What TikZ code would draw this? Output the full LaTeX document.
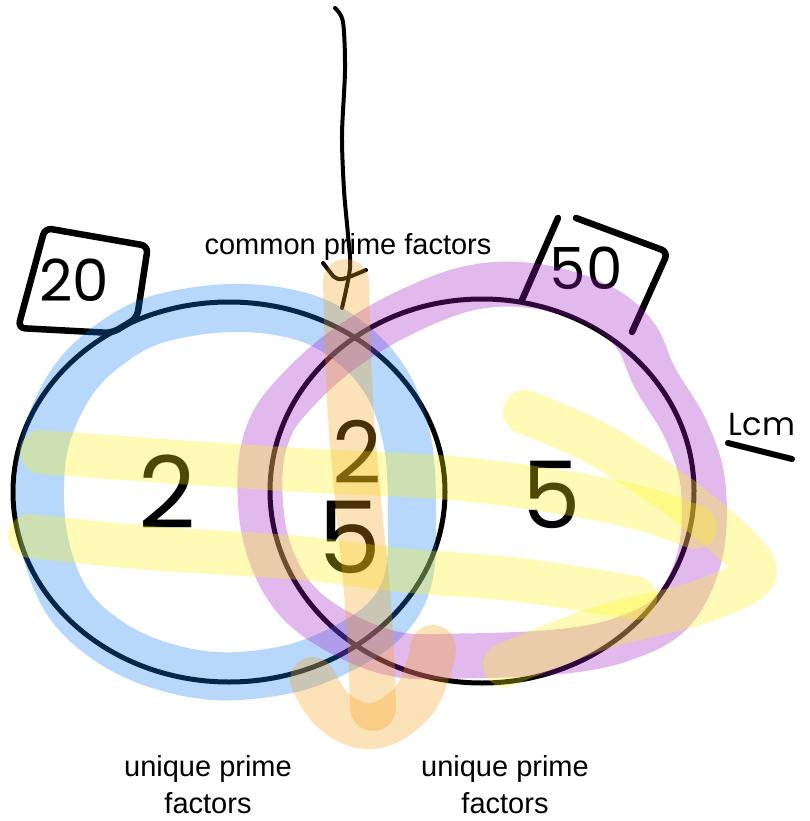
\documentclass[tikz,border=0pt]{standalone}
\usepackage{fontspec}
\setmainfont{Liberation Sans}
\newfontfamily\handfont{Poppins}
\definecolor{hlblue}{RGB}{18,125,242}
\definecolor{hlpurple}{RGB}{162,25,198}
\definecolor{hlorange}{RGB}{248,162,22}
\definecolor{hlyellow}{RGB}{255,245,18}
\tikzset{
  ink/.style={draw=black, line width=5pt, line cap=round, line join=round},
  boxink/.style={draw=black, line width=6.5pt, line cap=round, line join=round, rounded corners=7pt},
  hlstroke/.style={line cap=round, line join=round, draw opacity=0.3},
  printed/.style={font=\fontsize{29}{37}\selectfont, align=center, inner sep=0pt},
  digits/.style={inner sep=0pt, text=black},
}
\begin{document}
\begin{tikzpicture}[x=1pt, y=-1pt]
\useasboundingbox (0,0) rectangle (810,821);
\fill[white] (0,0) rectangle (810,821);

% ---------- pen layer ----------
% the two sets
\draw[ink] (229,492) ellipse [x radius=216, y radius=190];
\draw[ink] (482,491) ellipse [x radius=212, y radius=192];

% tag boxes
\draw[boxink] (45,228) -- (148,246) -- (137,318) -- (112,333) -- (18,328) -- cycle;
\draw[boxink] (558,218) -- (522,300);
\draw[boxink] (576,218) -- (668,252) -- (632,332);

% handwritten numbers
\node[digits, font=\handfont\fontsize{58}{58}\selectfont] (tagA) at (74,280) {20};
\node[digits, font=\handfont\fontsize{58}{58}\selectfont] (tagB) at (586,268) {50};
\node[digits, font=\handfont\fontsize{100}{100}\selectfont] (onlyA) at (167,492) {2};
\node[digits, font=\handfont\fontsize{86}{86}\selectfont] (bothTwo) at (357,452) {2};
\node[digits, font=\handfont\fontsize{100}{100}\selectfont] (bothFive) at (350,537) {5};
\node[digits, font=\handfont\fontsize{93}{93}\selectfont] (onlyB) at (552,495) {5};

% LCM note
\node[digits, font=\handfont\fontsize{32}{32}\selectfont] (lcm) at (762,424) {Lcm};
\draw[ink, line width=6pt] (728,443) -- (792,459);

% pointer from the top edge down to the common column
\coordinate (ptrtop) at (335,8);
\coordinate (ptrend) at (342,308);
\draw[ink, line width=4pt] plot[smooth] coordinates {(ptrtop) (343,22) (345,70) (342,135) (344,190) (348,235) (350,268) (ptrend)};
\draw[ink, line width=4pt] (323,263) -- (333,276) .. controls (340,281) .. (366,270);

% printed labels
\node[printed] (common) at (348,247) {common prime factors};
\node[printed] (uniqA) at (208,785) {unique prime\\factors};
\node[printed] (uniqB) at (505,785) {unique prime\\factors};

% ---------- highlighter layer ----------
\draw[hlstroke, draw=hlblue, line width=48pt] plot[smooth cycle, tension=0.6] coordinates {
  (230,308) (300,316) (350,342) (388,385) (408,445) (412,520) (408,580) (385,620)
  (340,650) (285,670) (215,676) (150,662) (100,635) (65,598) (45,545) (40,490)
  (46,438) (70,385) (105,348) (155,320)};

\draw[hlstroke, draw=hlpurple, line width=45pt] plot[smooth cycle, tension=0.6] coordinates {
  (470,288) (535,286) (598,305) (635,335) (655,378) (686,430) (703,485) (700,555)
  (672,612) (620,640) (555,652) (460,656) (395,654) (335,630) (292,595) (266,540)
  (260,475) (270,428) (295,393) (340,352) (400,315)};

% yellow sweeps across the whole diagram
\draw[hlstroke, draw=hlyellow, line width=44pt] plot[smooth, tension=0.6] coordinates {
  (42,452) (150,460) (300,470) (450,478) (560,492) (640,508) (695,527)};
\draw[hlstroke, draw=hlyellow, line width=44pt] plot[smooth, tension=0.6] coordinates {
  (30,536) (150,548) (300,558) (400,570) (520,580) (635,598)};
\draw[hlstroke, draw=hlyellow, line width=44pt] plot[smooth, tension=0.5] coordinates {
  (525,412) (600,445) (690,505) (755,570) (700,602) (600,628) (505,665)};

% orange column through the common region
\draw[hlstroke, draw=hlorange, line width=46pt] plot[smooth, tension=0.6] coordinates {
  (346,282) (350,400) (358,500) (366,580) (371,650) (373,708)};
\draw[hlstroke, draw=hlorange, line width=46pt] plot[smooth, tension=0.7] coordinates {
  (313,680) (335,712) (372,726) (410,705) (428,670) (433,648)};
\end{tikzpicture}
\end{document}
